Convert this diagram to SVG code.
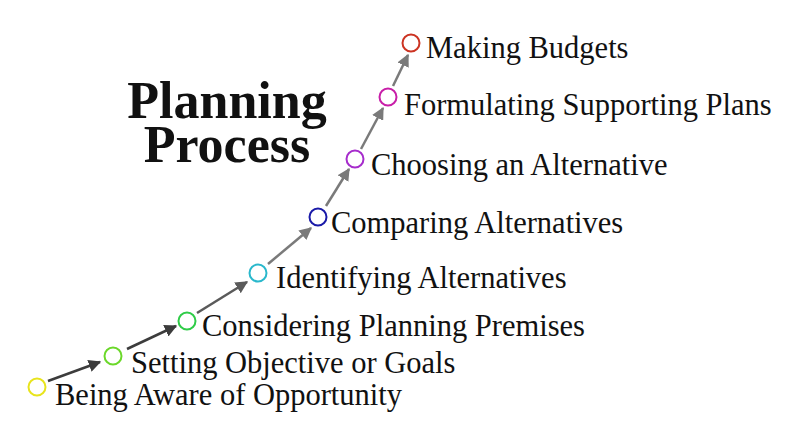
<svg xmlns="http://www.w3.org/2000/svg" width="800" height="437" viewBox="0 0 800 437">
<defs>
<style>
.lbl{font-family:"Liberation Serif","Times New Roman",serif;font-size:30.5px;fill:#111}
.ttl{font-family:"Liberation Serif","Times New Roman",serif;font-size:52px;font-weight:bold;fill:#111;text-anchor:middle}
.dot{fill:none;stroke-width:2}
.arr{stroke-width:2.5;fill:none}
</style>
<marker id="ahd" viewBox="0 0 10 10" refX="9" refY="5" markerWidth="5" markerHeight="5" orient="auto" markerUnits="strokeWidth"><path d="M0,0L10,5L0,10z" fill="#3c3c3c"/></marker>
<marker id="ahm" viewBox="0 0 10 10" refX="9" refY="5" markerWidth="5" markerHeight="5" orient="auto" markerUnits="strokeWidth"><path d="M0,0L10,5L0,10z" fill="#5a5a5a"/></marker>
<marker id="ahl" viewBox="0 0 10 10" refX="9" refY="5" markerWidth="5" markerHeight="5" orient="auto" markerUnits="strokeWidth"><path d="M0,0L10,5L0,10z" fill="#7a7a7a"/></marker>
</defs>
<rect width="800" height="437" fill="#fff"/>
<g id="title">
<text class="ttl" x="227" y="118">Planning</text>
<text class="ttl" x="227" y="162">Process</text>
</g>
<g id="connectors">
<line class="arr" x1="48" y1="381" x2="100" y2="362" stroke="#3c3c3c" marker-end="url(#ahd)"/>
<line class="arr" x1="127" y1="349" x2="176" y2="326" stroke="#3c3c3c" marker-end="url(#ahd)"/>
<line class="arr" x1="197" y1="313" x2="247" y2="282" stroke="#5a5a5a" marker-end="url(#ahm)"/>
<line class="arr" x1="268" y1="264" x2="311" y2="228" stroke="#7a7a7a" marker-end="url(#ahl)"/>
<line class="arr" x1="326" y1="206" x2="349" y2="169" stroke="#7a7a7a" marker-end="url(#ahl)"/>
<line class="arr" x1="361" y1="149" x2="383" y2="108" stroke="#7a7a7a" marker-end="url(#ahl)"/>
<line class="arr" x1="393" y1="86" x2="408" y2="55" stroke="#7a7a7a" marker-end="url(#ahl)"/>
</g>
<g id="n1"><circle class="dot" cx="37" cy="387" r="8.5" stroke="#e8e41c"/><text class="lbl" x="55" y="405">Being Aware of Opportunity</text></g>
<g id="n2"><circle class="dot" cx="113" cy="356" r="8.5" stroke="#6bd82a"/><text class="lbl" x="131" y="373">Setting Objective or Goals</text></g>
<g id="n3"><circle class="dot" cx="187" cy="321" r="8.5" stroke="#2fcc48"/><text class="lbl" x="202" y="336">Considering Planning Premises</text></g>
<g id="n4"><circle class="dot" cx="258" cy="273" r="8.5" stroke="#2ab8cc"/><text class="lbl" x="276" y="288">Identifying Alternatives</text></g>
<g id="n5"><circle class="dot" cx="318" cy="217" r="8.5" stroke="#1a1aa8"/><text class="lbl" x="331" y="233">Comparing Alternatives</text></g>
<g id="n6"><circle class="dot" cx="355" cy="159" r="8.5" stroke="#a62ccc"/><text class="lbl" x="371" y="175">Choosing an Alternative</text></g>
<g id="n7"><circle class="dot" cx="388" cy="97" r="8.5" stroke="#c81ea8"/><text class="lbl" x="404" y="115">Formulating Supporting Plans</text></g>
<g id="n8"><circle class="dot" cx="411" cy="43" r="8.5" stroke="#cc3322"/><text class="lbl" x="426" y="58">Making Budgets</text></g>
</svg>
